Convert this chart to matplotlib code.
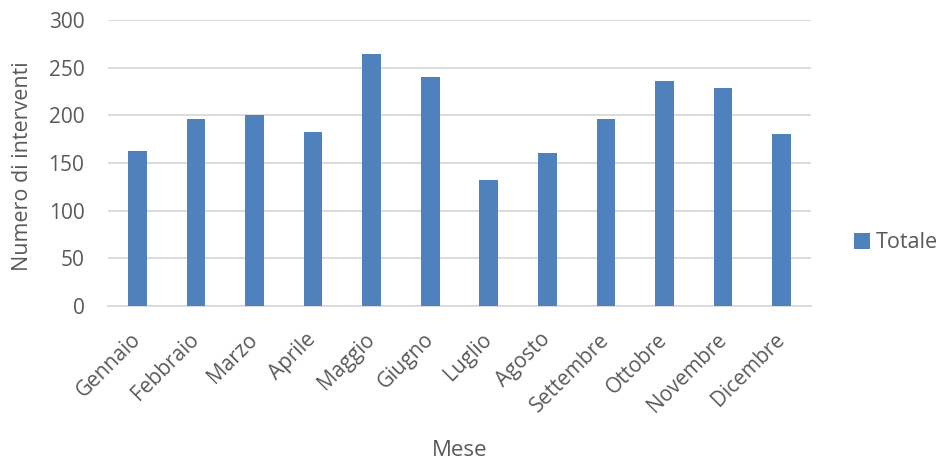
import matplotlib.pyplot as plt
import numpy as np

mesi = ['Gennaio', 'Febbraio', 'Marzo', 'Aprile', 'Maggio', 'Giugno',
        'Luglio', 'Agosto', 'Settembre', 'Ottobre', 'Novembre', 'Dicembre']
totale = [163, 196, 200, 183, 264, 240, 132, 160, 196, 236, 229, 180]
yticks = [0, 50, 100, 150, 200, 250, 300]

plt.rcParams['font.family'] = ['Open Sans', 'DejaVu Sans']
grigio = '#595959'

fig = plt.figure(figsize=(9.44, 4.62), dpi=100)
ax = fig.add_axes([108/944, 1-306/462, (811-108)/944, (306-20)/462])

x = np.arange(len(mesi))
ax.bar(x, totale, width=0.32, color='#4f81bd', label='Totale', zorder=3)

ax.set_xlim(-0.5, len(mesi)-0.5)
ax.set_ylim(0, 300)
ax.set_yticks(yticks)
ax.grid(axis='y', color='#d9d9d9', linewidth=1.3, zorder=0)
for s in ['top', 'right', 'left']:
    ax.spines[s].set_visible(False)
ax.spines['bottom'].set_color('#d9d9d9')
ax.spines['bottom'].set_linewidth(1.3)
ax.tick_params(axis='both', length=0, labelsize=15, colors=grigio)
ax.tick_params(axis='y', pad=17)
ax.set_xticks(x)
ax.set_xticklabels(mesi, rotation=45, ha='right', va='center',
                   rotation_mode='anchor')
ax.tick_params(axis='x', pad=22)

ax.set_ylabel('Numero di interventi', fontsize=15.5, color=grigio)
ax.yaxis.set_label_coords(-0.106, 0.49)
ax.set_xlabel('Mese', fontsize=16, color=grigio)
ax.xaxis.set_label_coords(0.5, -0.47)

fig.legend(loc='center left', bbox_to_anchor=(854/944, 1-243/462), frameon=False,
           fontsize=15.5, labelcolor=grigio, handlelength=0.72, handleheight=0.72,
           handletextpad=0.3, borderpad=0, borderaxespad=0)

fig.savefig('out.png', dpi=100)
